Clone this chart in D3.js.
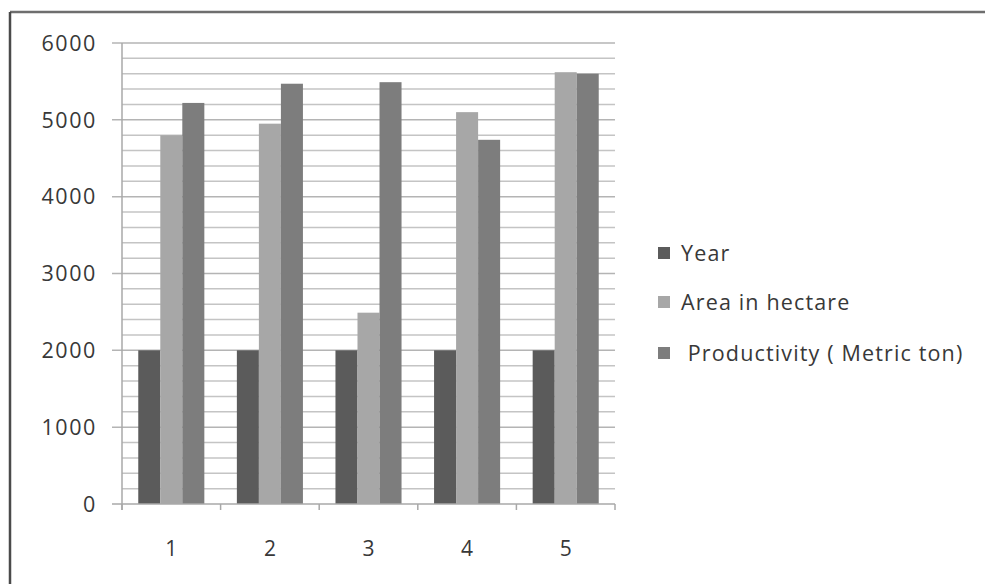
<!DOCTYPE html>
<html>
<head>
<meta charset="utf-8">
<script src="https://cdn.jsdelivr.net/npm/d3@7"></script>
<style>
  html, body { margin: 0; padding: 0; background: #ffffff; }
  svg { display: block; font-family: "Open Sans", "Liberation Sans", sans-serif; }
</style>
</head>
<body>
<svg id="chart" width="985" height="584"></svg>
<script>
// Categories and series
const categories = ["1", "2", "3", "4", "5"];
const seriesNames = ["Year", "Area in hectare", " Productivity ( Metric ton)"];
const yearValues = [2000, 2000, 2000, 2000, 2000];
const areaValues = [4800, 4950, 2490, 5100, 5620];
const productivityValues = [5220, 5470, 5490, 4740, 5600];
const yTicks = [0, 1000, 2000, 3000, 4000, 5000, 6000];
const seriesColors = ["#5b5b5b", "#a7a7a7", "#7d7d7d"];

const seriesValues = [yearValues, areaValues, productivityValues];
const rows = categories.map((c, i) => ({
  cat: c,
  values: seriesValues.map((vals, s) => ({ s, v: vals[i] }))
}));

const svg = d3.select("#chart");

// Outer frame: top and left edges
svg.append("line").attr("x1", 10).attr("x2", 985).attr("y1", 12).attr("y2", 12)
  .attr("stroke", "#6e6e6e").attr("stroke-width", 2.5);
svg.append("line").attr("x1", 10).attr("x2", 10).attr("y1", 12).attr("y2", 584)
  .attr("stroke", "#4a4a4a").attr("stroke-width", 2.5);

const plot = { left: 122, right: 615, top: 43, bottom: 504 };

const x = d3.scaleBand().domain(categories)
  .range([plot.left, plot.right]).paddingInner(0.33).paddingOuter(0.165);
const xs = d3.scaleBand().domain(d3.range(seriesNames.length))
  .range([0, x.bandwidth()]).padding(0);
const y = d3.scaleLinear().domain([0, 6000]).range([plot.bottom, plot.top]);

// Minor gridlines every 200
const minor = d3.range(200, 6001, 200).filter(v => v % 1000 !== 0);
svg.append("g").selectAll("line").data(minor).join("line")
  .attr("x1", plot.left).attr("x2", plot.right)
  .attr("y1", d => y(d)).attr("y2", d => y(d))
  .attr("stroke", "#c4c4c4").attr("stroke-width", 1.5);

// Major gridlines with outward ticks
svg.append("g").selectAll("line").data(yTicks.filter(v => v > 0)).join("line")
  .attr("x1", plot.left - 10).attr("x2", plot.right)
  .attr("y1", d => y(d)).attr("y2", d => y(d))
  .attr("stroke", "#b4b4b4").attr("stroke-width", 1.5);

// Y axis line
svg.append("line").attr("x1", plot.left).attr("x2", plot.left)
  .attr("y1", plot.top).attr("y2", plot.bottom + 6)
  .attr("stroke", "#a8a8a8").attr("stroke-width", 1.5);

// Y tick labels
svg.append("g").selectAll("text").data(yTicks).join("text")
  .attr("x", 97).attr("y", d => y(d))
  .attr("dy", "0.36em").attr("text-anchor", "end")
  .attr("font-size", 21.5).attr("letter-spacing", 1.6).attr("fill", "#383838")
  .text(d => d);

// Bars
const groups = svg.append("g").selectAll("g").data(rows).join("g")
  .attr("transform", d => `translate(${x(d.cat)},0)`);
groups.selectAll("rect").data(d => d.values).join("rect")
  .attr("x", d => xs(d.s)).attr("width", xs.bandwidth())
  .attr("y", d => y(d.v)).attr("height", d => y(0) - y(d.v))
  .attr("fill", d => seriesColors[d.s]);

// X axis line and boundary ticks
svg.append("line").attr("x1", plot.left - 10).attr("x2", plot.right)
  .attr("y1", plot.bottom).attr("y2", plot.bottom)
  .attr("stroke", "#a8a8a8").attr("stroke-width", 1.5);
const bounds = d3.range(categories.length + 1).map(i => plot.left + i * x.step());
svg.append("g").selectAll("line").data(bounds).join("line")
  .attr("x1", d => d).attr("x2", d => d)
  .attr("y1", plot.bottom).attr("y2", plot.bottom + 6)
  .attr("stroke", "#a8a8a8").attr("stroke-width", 1.5);

// X tick labels
svg.append("g").selectAll("text").data(categories).join("text")
  .attr("x", d => x(d) + x.bandwidth() / 2).attr("y", 548)
  .attr("dy", "0.36em").attr("text-anchor", "middle")
  .attr("font-size", 21).attr("fill", "#383838")
  .text(d => d);

// Legend
const legendY = [253, 302, 353];
const legend = svg.append("g").selectAll("g").data(seriesNames).join("g")
  .attr("transform", (d, i) => `translate(658,${legendY[i]})`);
legend.append("rect").attr("x", 0).attr("y", -6).attr("width", 12).attr("height", 12)
  .attr("fill", (d, i) => seriesColors[i]);
legend.append("text").attr("x", 23).attr("y", 0).attr("dy", "0.36em")
  .attr("font-size", 21.5).attr("letter-spacing", 1.15).attr("fill", "#383838")
  .attr("xml:space", "preserve").style("white-space", "pre")
  .text(d => d);
</script>
</body>
</html>
